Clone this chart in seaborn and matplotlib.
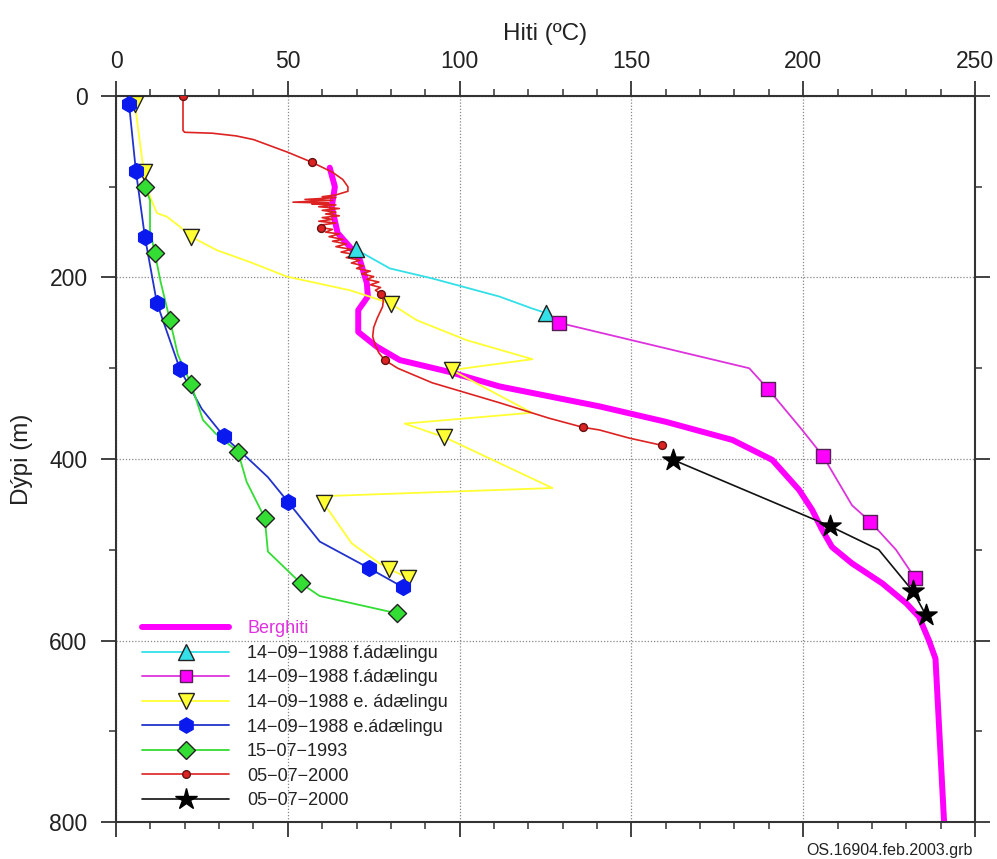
import matplotlib
matplotlib.use("Agg")
import matplotlib.pyplot as plt
from matplotlib.lines import Line2D
from matplotlib.ticker import MultipleLocator
import pandas as pd
import seaborn as sns

# Berghiti (estimated formation temperature)
berg_temp = [62.2, 63.7, 62.8, 64.5, 68.0, 71.0, 73.0, 73.3, 70.5, 70.5, 75.8, 82.6, 97.0,
             111.6, 140.7, 160.0, 179.4, 191.0, 198.8, 202.6, 205.5, 208.4, 214.2, 223.0,
             230.0, 233.7, 236.6, 238.5, 241.0]
berg_depth = [79, 100, 122, 151, 166, 181, 206, 221, 236, 260, 276, 291, 304,
              320, 342, 359, 379, 401, 434, 456, 478, 497, 515, 537,
              559, 574, 600, 620, 800]

# 14-09-1988 f.ádælingu (triangles)
cyan_temp = [69.8, 79.7, 92.0, 111.6, 121.0, 125.0]
cyan_depth = [169, 190, 201, 221, 234, 239]
cyan_mk_temp = [69.8, 125.0]
cyan_mk_depth = [169, 239]

# 14-09-1988 f.ádælingu (squares)
mag_temp = [129.0, 184.3, 189.8, 199.7, 205.8, 214.2, 219.5, 227.0, 232.5]
mag_depth = [250, 300, 323, 368, 397, 451, 469, 500, 531]
mag_mk_temp = [129.0, 189.8, 205.8, 219.5, 232.5]
mag_mk_depth = [250, 323, 397, 469, 531]

# 14-09-1988 e. ádælingu (down triangles)
yel_temp = [5.5, 8.1, 9.9, 11.9, 14.8, 18.6, 21.8, 29.4, 39.0, 49.7, 68.0, 73.8, 80.0,
            87.5, 102.0, 121.2, 97.7, 121.0, 84.0, 95.6, 127.0, 60.0, 60.5, 68.6,
            76.7, 79.4, 84.9]
yel_depth = [9, 84, 111, 129, 133, 144, 155, 170, 183, 199, 214, 221, 229,
             247, 269, 290, 302, 349, 361, 376, 432, 441, 449, 493,
             515, 521, 531]
yel_mk_temp = [5.5, 8.1, 21.8, 80.0, 97.7, 95.6, 60.5, 79.4, 84.9]
yel_mk_depth = [9, 84, 155, 229, 302, 376, 449, 521, 531]

# 14-09-1988 e.ádælingu (hexagons)
blue_temp = [3.8, 5.8, 8.4, 11.9, 18.6, 25.0, 31.4, 40.0, 44.2, 50.0, 59.3, 73.5, 83.4]
blue_depth = [9, 83, 155, 228, 301, 345, 375, 405, 420, 447, 491, 520, 541]
blue_mk_temp = [3.8, 5.8, 8.4, 11.9, 18.6, 31.4, 50.0, 73.5, 83.4]
blue_mk_depth = [9, 83, 155, 228, 301, 375, 447, 520, 541]

# 15-07-1993 (diamonds)
green_temp = [8.4, 9.9, 9.9, 11.3, 13.0, 15.7, 18.0, 21.8, 25.3, 29.0, 35.5, 38.0, 43.3,
              44.2, 49.7, 53.8, 59.3, 81.7]
green_depth = [100, 115, 148, 173, 205, 247, 285, 317, 357, 372, 392, 425, 465,
               502, 522, 537, 551, 570]
green_mk_temp = [8.4, 11.3, 15.7, 21.8, 35.5, 43.3, 53.8, 81.7]
green_mk_depth = [100, 173, 247, 317, 392, 465, 537, 570]

# 05-07-2000 (logged profile, small dots)
red_temp = [19.5, 19.5, 20.0, 28.0, 35.0, 40.0, 45.0, 50.0, 57.0, 63.0, 66.0, 67.5, 67.5,
            64.0, 60.0, 64.0, 55.0, 63.0, 51.5, 62.0, 57.0, 64.0, 59.0, 65.0, 60.0,
            64.0, 61.0, 65.0, 60.0, 63.0, 59.0, 64.0, 60.0, 59.6, 63.0, 61.0, 65.0,
            62.0, 66.0, 63.0, 67.0, 64.0, 68.5, 65.5, 70.0, 67.0, 71.0, 68.5, 72.0,
            70.0, 74.0, 71.5, 75.0, 73.0, 76.5, 74.0, 77.0, 75.5, 77.0, 77.8, 77.6,
            76.0, 75.0, 74.7, 75.5, 76.5, 78.2, 82.0, 92.0, 111.6, 126.0, 135.8,
            140.7, 149.4, 159.0]
red_depth = [0, 38, 40, 41, 44, 48, 55, 62, 73, 84, 92, 100, 105,
             109, 111, 112, 114, 115, 117, 118, 119, 120, 122, 124, 126,
             128, 130, 132, 134, 136, 138, 140, 142, 145, 147, 150, 152,
             155, 158, 160, 163, 166, 169, 172, 175, 178, 181, 184, 187,
             190, 193, 196, 199, 202, 205, 208, 211, 214, 218, 225, 232,
             245, 255, 265, 275, 283, 291, 300, 316, 338, 355, 365,
             368, 377, 385]
red_mk_temp = [19.5, 57.0, 59.6, 77.0, 78.2, 135.8, 159.0]
red_mk_depth = [0, 73, 145, 218, 291, 365, 385]

# 05-07-2000 (stars)
black_temp = [162.2, 207.8, 222.0, 232.0, 235.7]
black_depth = [401, 474, 500, 546, 572]
black_mk_temp = [162.2, 207.8, 232.0, 235.7]
black_mk_depth = [401, 474, 546, 572]

labels = ["Berghiti", "14\u221209\u22121988 f.ádælingu", "14\u221209\u22121988 f.ádælingu",
          "14\u221209\u22121988 e. ádælingu", "14\u221209\u22121988 e.ádælingu",
          "15\u221207\u22121993", "05\u221207\u22122000", "05\u221207\u22122000"]

sns.set_style("white")
plt.rcParams["font.family"] = ["Liberation Sans", "DejaVu Sans"]

fig = plt.figure(figsize=(9.97, 8.59), dpi=100)
ax = fig.add_axes([116 / 997, 1 - 822 / 859, (975 - 116) / 997, (822 - 96) / 859])

C_BERG = "#ff00ff"
C_CYAN = "#33e0e8"
C_MAG = "#dd33dd"
C_YEL = "#ffff33"
C_BLUE = "#2233cc"
C_GREEN = "#33dd33"
C_RED = "#dd2222"
C_BLACK = "#111111"
C_AXIS = "#333333"


def profile(t, d, color, lw, z):
    df = pd.DataFrame({"t": t, "d": d})
    sns.lineplot(data=df, x="t", y="d", sort=False, estimator=None, color=color,
                 linewidth=lw, ax=ax, legend=False, zorder=z)


def marks(t, d, marker, size, face, edge, z, ew=1.0):
    df = pd.DataFrame({"t": t, "d": d})
    sns.scatterplot(data=df, x="t", y="d", marker=marker, s=size, color=face,
                    edgecolor=edge, linewidth=ew, ax=ax, legend=False, zorder=z)


profile(berg_temp, berg_depth, C_BERG, 4.3, 2)
profile(cyan_temp, cyan_depth, C_CYAN, 1.3, 3)
profile(mag_temp, mag_depth, C_MAG, 1.3, 3)
profile(yel_temp, yel_depth, C_YEL, 1.3, 3)
profile(blue_temp, blue_depth, C_BLUE, 1.3, 3)
profile(green_temp, green_depth, C_GREEN, 1.3, 3)
profile(red_temp, red_depth, C_RED, 1.2, 4)
profile(black_temp, black_depth, C_BLACK, 1.2, 4)

marks(cyan_mk_temp, cyan_mk_depth, "^", 135, C_CYAN, "#222222", 6)
marks(mag_mk_temp, mag_mk_depth, "s", 90, C_BERG, "#552255", 6)
marks(yel_mk_temp, yel_mk_depth, "v", 135, C_YEL, "#222222", 6)
marks(blue_mk_temp, blue_mk_depth, "h", 130, "#0a1aee", "#0a1aee", 6)
marks(green_mk_temp, green_mk_depth, "D", 85, C_GREEN, "#222222", 6)
marks(red_mk_temp, red_mk_depth, "o", 32, C_RED, "#661111", 6)
marks(black_mk_temp, black_mk_depth, "*", 260, "black", "black", 6)

ax.set_xlim(0, 250)
ax.set_ylim(800, 0)

ax.xaxis.set_major_locator(MultipleLocator(50))
ax.xaxis.set_minor_locator(MultipleLocator(10))
ax.yaxis.set_major_locator(MultipleLocator(200))
ax.yaxis.set_minor_locator(MultipleLocator(100))
ax.tick_params(axis="x", which="both", top=True, bottom=True, labeltop=True,
               labelbottom=False, direction="out", color=C_AXIS)
ax.tick_params(axis="y", which="both", left=True, right=True, labelleft=True,
               labelright=False, direction="out", color=C_AXIS)
ax.tick_params(which="major", length=10.5, width=1.3, labelsize=16.5, labelcolor="#222222")
ax.tick_params(which="minor", length=5, width=1.1)
ax.tick_params(axis="x", which="major", pad=6)
ax.tick_params(axis="y", which="major", pad=10)

ax.grid(True, which="major", linestyle=(0, (1, 1.5)), color="#888888", linewidth=0.9)
ax.set_axisbelow(True)
for s in ax.spines.values():
    s.set_color(C_AXIS)
    s.set_linewidth(1.5)

ax.xaxis.set_label_position("top")
ax.set_xlabel("Hiti (ºC)", fontsize=17.5, labelpad=7, color="#222222")
ax.set_ylabel("Dýpi (m)", fontsize=17.5, labelpad=12, color="#222222")

handles = [
    Line2D([], [], color=C_BERG, lw=4.3),
    Line2D([], [], color=C_CYAN, lw=1.3, marker="^", ms=11, mfc=C_CYAN, mec="#222222"),
    Line2D([], [], color=C_MAG, lw=1.3, marker="s", ms=9, mfc=C_BERG, mec="#552255"),
    Line2D([], [], color=C_YEL, lw=1.3, marker="v", ms=11, mfc=C_YEL, mec="#222222"),
    Line2D([], [], color=C_BLUE, lw=1.3, marker="h", ms=11, mfc="#0a1aee", mec="#0a1aee"),
    Line2D([], [], color=C_GREEN, lw=1.3, marker="D", ms=9, mfc=C_GREEN, mec="#222222"),
    Line2D([], [], color=C_RED, lw=1.2, marker="o", ms=5.5, mfc=C_RED, mec="#661111"),
    Line2D([], [], color=C_BLACK, lw=1.2, marker="*", ms=16, mfc="black", mec="black"),
]
leg = ax.legend(handles, labels, loc="lower left", bbox_to_anchor=(0.016, 0.0),
                frameon=False, fontsize=13, handlelength=4.8, handletextpad=1.0,
                labelspacing=0.42, borderpad=0.5, borderaxespad=0.2)
for t in leg.get_texts():
    t.set_color("#222222")
leg.get_texts()[0].set_color("#e030e0")

fig.text(973 / 997, 1 - 850 / 859, "OS.16904.feb.2003.grb", ha="right", va="center",
         fontsize=11.5, color="#222222")

fig.savefig("out.png", dpi=100)
